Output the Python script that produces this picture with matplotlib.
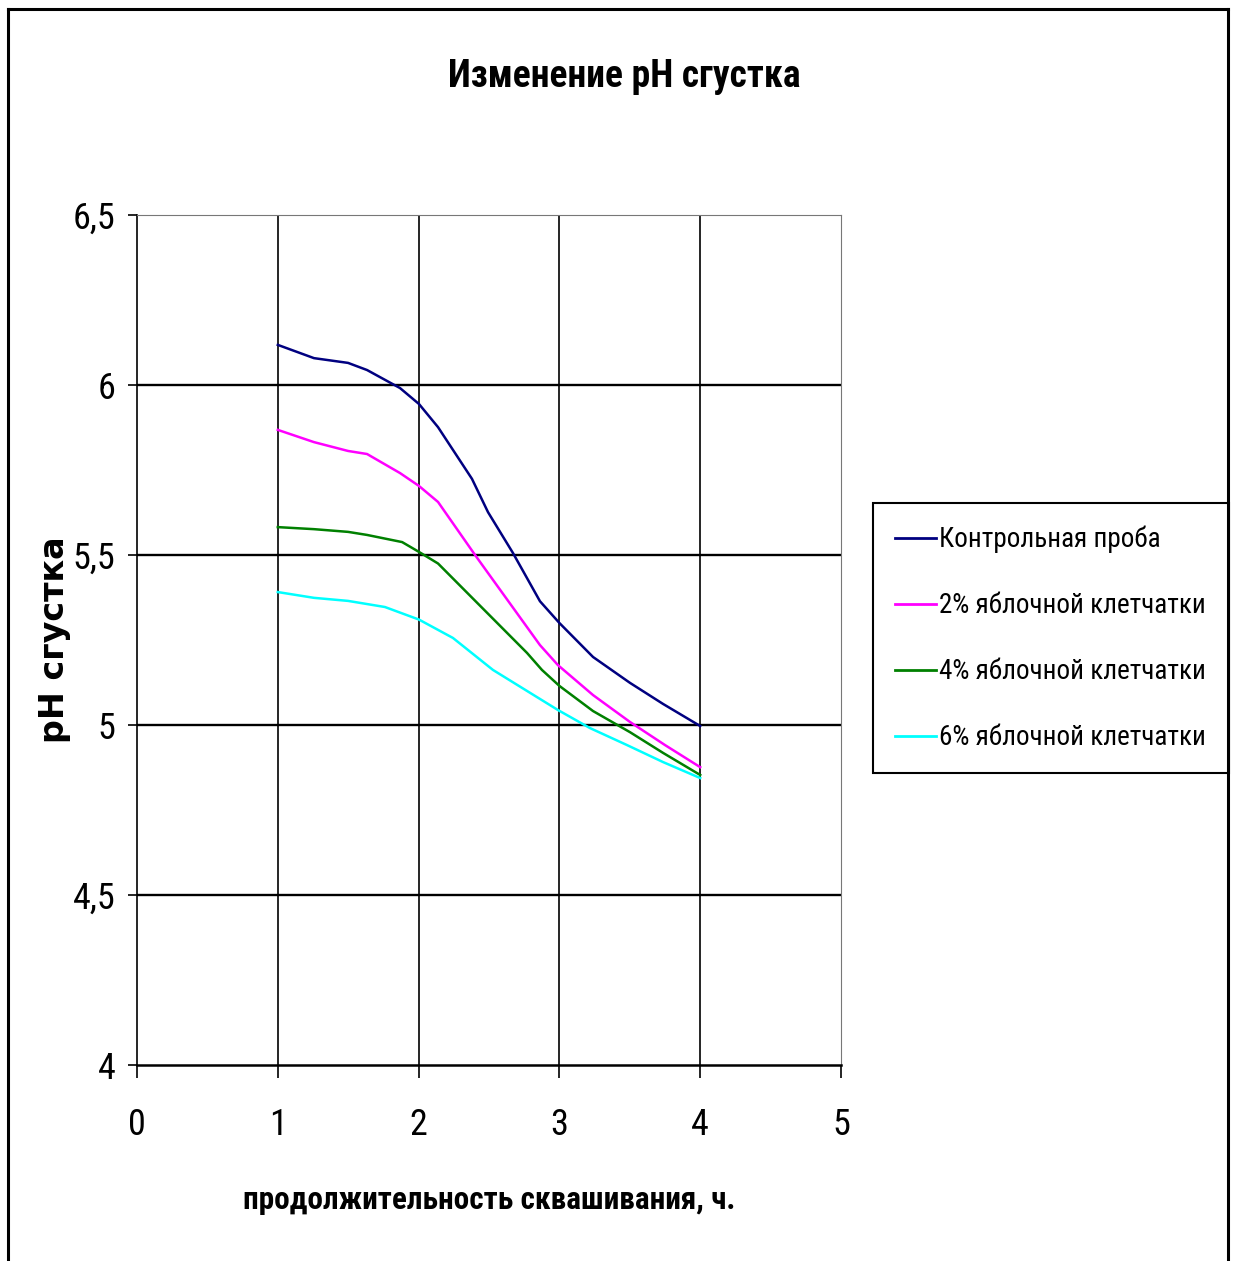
import numpy as np
import matplotlib
matplotlib.use('Agg')
import matplotlib.pyplot as plt
from matplotlib.lines import Line2D

NARROW = ['Roboto Condensed', 'DejaVu Sans']
WIDE_BOLD = ['DejaVu Sans']

# продолжительность сквашивания, ч. / pH
X_CONTROL = [1.0, 1.257, 1.499, 1.634, 1.868, 2.003, 2.138, 2.379, 2.493, 2.670, 2.862, 3.0, 3.239, 3.501, 3.736, 4.0]
Y_CONTROL = [6.118, 6.079, 6.065, 6.044, 5.991, 5.944, 5.876, 5.724, 5.626, 5.506, 5.364, 5.300, 5.200, 5.124, 5.062, 4.997]

X_2PCT = [1.0, 1.257, 1.499, 1.634, 1.868, 2.003, 2.138, 2.401, 2.493, 2.862, 2.99, 3.239, 3.501, 3.75, 4.0]
Y_2PCT = [5.868, 5.832, 5.806, 5.797, 5.741, 5.703, 5.656, 5.500, 5.447, 5.235, 5.176, 5.088, 5.009, 4.941, 4.876]

X_4PCT = [1.0, 1.257, 1.499, 1.634, 1.883, 2.003, 2.138, 2.770, 2.876, 3.0, 3.239, 3.501, 3.736, 4.0]
Y_4PCT = [5.582, 5.576, 5.568, 5.559, 5.538, 5.509, 5.475, 5.212, 5.162, 5.115, 5.041, 4.979, 4.918, 4.853]

X_6PCT = [1.0, 1.257, 1.499, 1.761, 2.003, 2.244, 2.528, 2.841, 2.99, 3.217, 3.480, 3.736, 4.0]
Y_6PCT = [5.391, 5.374, 5.365, 5.347, 5.310, 5.256, 5.162, 5.082, 5.044, 4.991, 4.941, 4.891, 4.844]

SERIES = [
    ('Контрольная проба', X_CONTROL, Y_CONTROL, '#000080'),
    ('2% яблочной клетчатки', X_2PCT, Y_2PCT, '#FF00FF'),
    ('4% яблочной клетчатки', X_4PCT, Y_4PCT, '#008000'),
    ('6% яблочной клетчатки', X_6PCT, Y_6PCT, '#00FFFF'),
]

X_TICKS = [0, 1, 2, 3, 4, 5]
Y_TICKS = [4, 4.5, 5, 5.5, 6, 6.5]
Y_TICK_LABELS = ['4', '4,5', '5', '5,5', '6', '6,5']

W, H = 1233, 1261
fig = plt.figure(figsize=(W / 100, H / 100), dpi=100)
fig.patch.set_facecolor('white')

# outer frame (bottom edge is cut off in the original)
frame_kw = dict(transform=fig.transFigure, color='black', lw=2.2)
fig.add_artist(Line2D([8 / W, 8 / W], [0, 1 - 9 / H], **frame_kw))
fig.add_artist(Line2D([8 / W, 1228 / W], [1 - 9 / H, 1 - 9 / H], **frame_kw))
fig.add_artist(Line2D([1228 / W, 1228 / W], [0, 1 - 9 / H], **frame_kw))

ax = fig.add_axes([137 / W, 1 - 1065 / H, (841 - 137) / W, (1065 - 215) / H])

for y in [4.5, 5, 5.5, 6]:
    ax.axhline(y, color='black', lw=1.7, zorder=1)
for x in [1, 2, 3, 4]:
    ax.axvline(x, color='black', lw=1.2, zorder=1)

for label, xs, ys, color in SERIES:
    ax.plot(xs, ys, color=color, lw=1.8, label=label, zorder=3)

ax.set_xlim(0, 5)
ax.set_ylim(4, 6.5)
for side in ['top', 'right']:
    ax.spines[side].set_color('#777777')
    ax.spines[side].set_linewidth(0.8)
ax.spines['left'].set_linewidth(1.2)
ax.spines['bottom'].set_linewidth(1.8)

ax.set_xticks(X_TICKS)
ax.set_xticklabels([str(t) for t in X_TICKS], family=NARROW, fontsize=26)
ax.set_yticks(Y_TICKS)
ax.set_yticklabels(Y_TICK_LABELS, family=NARROW, fontsize=26)
ax.tick_params(axis='x', direction='out', length=9.5, width=1.2, pad=21)
ax.tick_params(axis='y', direction='out', length=6.5, width=1.2, pad=9)

ax.set_xlabel('продолжительность сквашивания, ч.', family=NARROW, fontsize=22.5,
              fontweight='bold', va='baseline')
ax.xaxis.set_label_coords(0.5, -(1209 - 1065) / 850)
ax.set_ylabel('pH сгустка', family=WIDE_BOLD, fontsize=24, fontweight='bold', va='center')
ax.yaxis.set_label_coords((55 - 137) / 704, 0.5)

fig.text(624 / W, 1 - 87 / H, 'Изменение pH сгустка', family=NARROW, fontsize=27,
         fontweight='bold', ha='center', va='baseline')

leg = ax.legend(loc='upper left', bbox_to_anchor=(873 / W, 1 - 503 / H),
                bbox_transform=fig.transFigure, prop={'family': NARROW, 'size': 19.5},
                frameon=True, fancybox=False, framealpha=1, edgecolor='black',
                handlelength=1.5, handletextpad=0.12, borderpad=0.83, labelspacing=1.44,
                borderaxespad=0)
leg.get_frame().set_linewidth(1.5)
for line in leg.get_lines():
    line.set_linewidth(2.0)

fig.savefig('out.png', dpi=100, facecolor='white')
